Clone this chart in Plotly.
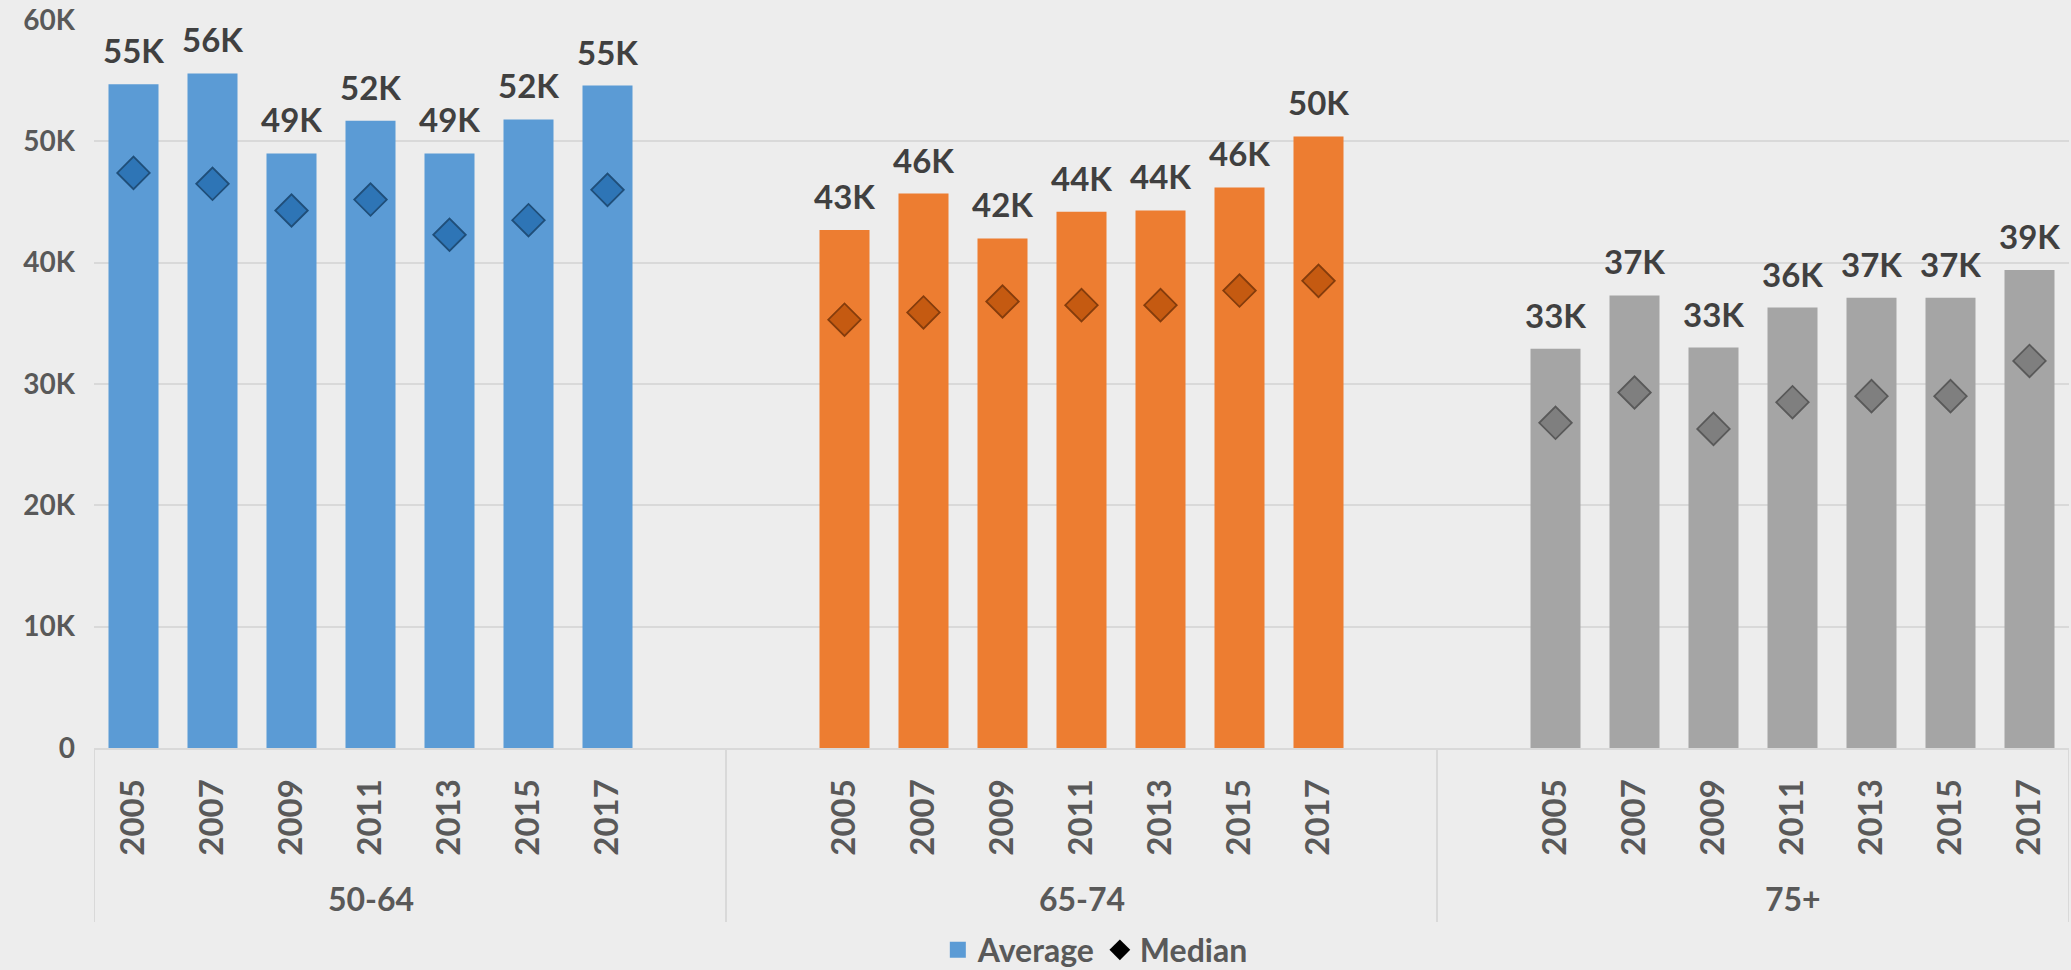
import plotly.graph_objects as go

# ---------------- data ----------------
groups = ["50-64", "65-74", "75+"]
years = ["2005", "2007", "2009", "2011", "2013", "2015", "2017"]

avg_50_64 = [54700, 55600, 49000, 51700, 49000, 51800, 54600]
avg_65_74 = [42700, 45700, 42000, 44200, 44300, 46200, 50400]
avg_75_up = [32900, 37300, 33000, 36300, 37100, 37100, 39400]

med_50_64 = [47400, 46500, 44300, 45200, 42300, 43500, 46000]
med_65_74 = [35300, 35900, 36800, 36500, 36500, 37700, 38500]
med_75_up = [26800, 29300, 26300, 28500, 29000, 29000, 31900]

y_tick_vals = [0, 10000, 20000, 30000, 40000, 50000, 60000]
y_tick_text = ["0", "10K", "20K", "30K", "40K", "50K", "60K"]

# ---------------- styles ----------------
bar_colors = ["#5B9BD5", "#ED7D31", "#A5A5A5"]
dia_fill = ["#2E75B6", "#C55A11", "#7F7F7F"]
dia_line = ["#1F4E79", "#843C0C", "#595959"]
BG = "#EDEDED"
GRID = "#D9D9D9"
FONT = "Lato"

averages = [avg_50_64, avg_65_74, avg_75_up]
medians = [med_50_64, med_65_74, med_75_up]

# category layout: group1 (7 years) + 2 blanks + group2 + 2 blanks + group3
categories = []
xs, ya, ym, bc, df, dl = [], [], [], [], [], []
group_members = []
boundaries = []
for gi, g in enumerate(groups):
    if gi > 0:
        categories.append(f"gap{gi}a")
        boundaries.append(len(categories) - 0.5)
        categories.append(f"gap{gi}b")
    members = []
    for yi, yr in enumerate(years):
        key = f"{g}|{yr}"
        categories.append(key)
        members.append(len(categories) - 1)
        xs.append(key)
        ya.append(averages[gi][yi])
        ym.append(medians[gi][yi])
        bc.append(bar_colors[gi])
        df.append(dia_fill[gi])
        dl.append(dia_line[gi])
    group_members.append(members)

n_cat = len(categories)

fig = go.Figure()
fig.add_trace(go.Bar(
    x=xs, y=ya, name="Average", showlegend=False,
    marker=dict(color=bc, line=dict(width=0)),
    hoverinfo="x+y",
))
fig.add_trace(go.Scatter(
    x=xs, y=ym, name="Median", mode="markers", showlegend=False,
    marker=dict(symbol="diamond", size=25, color=df,
                line=dict(color=dl, width=1.8)),
))
# legend entries
fig.add_trace(go.Scatter(
    x=[None], y=[None], name="Average", mode="markers",
    marker=dict(symbol="square", size=16, color=bar_colors[0]),
))
fig.add_trace(go.Scatter(
    x=[None], y=[None], name="Median", mode="markers",
    marker=dict(symbol="diamond", size=16, color="#000000"),
))

# data labels
annotations = []
for x, v in zip(xs, ya):
    annotations.append(dict(
        x=x, y=v, xref="x", yref="y", text=f"{int(v / 1000 + 0.5)}K",
        showarrow=False, yanchor="bottom", yshift=12,
        font=dict(family=FONT, size=33, color="#404040", weight="bold"),
    ))

plot_h = 970 - 20 - 222
# group labels
for g, members in zip(groups, group_members):
    annotations.append(dict(
        x=sum(members) / len(members), y=-(898 - 748) / plot_h,
        xref="x", yref="paper", text=g, showarrow=False,
        yanchor="middle", xanchor="center",
        font=dict(family=FONT, size=32, color="#595959", weight="bold"),
    ))

# divider lines
shapes = []
for b in [-0.5] + boundaries + [n_cat - 0.5]:
    shapes.append(dict(
        type="line", xref="x", yref="paper", x0=b, x1=b,
        y0=0, y1=-(922 - 748) / plot_h,
        line=dict(color=GRID, width=2),
    ))

year_keys = xs
year_text = [k.split("|")[1] for k in xs]

fig.update_layout(
    width=2071, height=970,
    margin=dict(l=94, r=2, t=20, b=222, autoexpand=False),
    paper_bgcolor=BG, plot_bgcolor=BG,
    bargap=0.367,
    showlegend=True,
    legend=dict(
        orientation="h", x=0.507, xanchor="center",
        y=-(950 - 748) / plot_h, yanchor="middle",
        font=dict(family=FONT, size=32, color="#595959", weight="bold"),
        bgcolor="rgba(0,0,0,0)", itemwidth=30,
    ),
    xaxis=dict(
        type="category", categoryorder="array", categoryarray=categories,
        range=[-0.5, n_cat - 0.5], automargin=False,
        tickmode="array", tickvals=year_keys, ticktext=year_text,
        tickangle=-90, ticks="", showgrid=False,
        showline=True, linecolor=GRID, linewidth=2,
        ticklabelstandoff=16,
        tickfont=dict(family=FONT, size=33, color="#595959", weight="bold"),
    ),
    yaxis=dict(
        range=[0, 60000], tickmode="array", tickvals=y_tick_vals,
        ticktext=y_tick_text, showgrid=True, gridcolor=GRID, gridwidth=2,
        zeroline=False, ticks="", ticklabelstandoff=18, automargin=False,
        tickfont=dict(family=FONT, size=28, color="#595959", weight="bold"),
    ),
    annotations=annotations,
    shapes=shapes,
)

fig.write_html(
    "out.html",
    config={"displayModeBar": False},
    post_script="document.body.style.margin='0';document.body.style.background='#EDEDED';",
)
